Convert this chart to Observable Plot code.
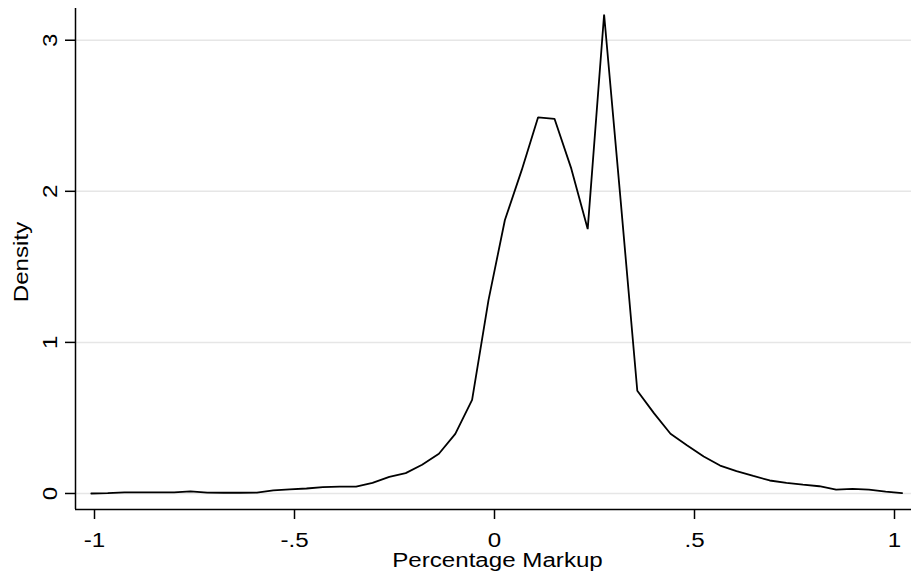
<!DOCTYPE html>
<html>
<head>
<meta charset="utf-8">
<script src="https://cdn.jsdelivr.net/npm/d3@7"></script>
<script src="https://cdn.jsdelivr.net/npm/@observablehq/plot@0.6"></script>
<style>
  html, body { margin: 0; padding: 0; background: #fff; }
</style>
</head>
<body>
<div id="chart"></div>
<script>
// Kernel density evaluation points (Percentage Markup)
const markup = [
  -1.008, -0.967, -0.925, -0.884, -0.843, -0.801, -0.760, -0.718, -0.677, -0.636,
  -0.594, -0.553, -0.512, -0.470, -0.429, -0.387, -0.346, -0.305, -0.263, -0.222,
  -0.181, -0.139, -0.098, -0.056, -0.015, 0.026, 0.068, 0.109, 0.150, 0.192,
  0.233, 0.274, 0.316, 0.357, 0.399, 0.440, 0.481, 0.523, 0.564, 0.605,
  0.647, 0.688, 0.730, 0.771, 0.812, 0.854, 0.895, 0.936, 0.978, 1.019
];
// Density values
const density = [
  0.000, 0.002, 0.007, 0.008, 0.008, 0.008, 0.014, 0.006, 0.005, 0.005,
  0.006, 0.020, 0.027, 0.033, 0.042, 0.046, 0.046, 0.070, 0.110, 0.135,
  0.190, 0.263, 0.395, 0.620, 1.280, 1.810, 2.140, 2.490, 2.480, 2.150,
  1.750, 3.170, 1.920, 0.680, 0.530, 0.395, 0.320, 0.245, 0.185, 0.148,
  0.116, 0.086, 0.070, 0.058, 0.048, 0.025, 0.031, 0.025, 0.013, 0.002
];
const xTicks = [-1, -0.5, 0, 0.5, 1];
const xTickLabels = ["-1", "-.5", "0", ".5", "1"];
const yTicks = [0, 1, 2, 3];
const yTickLabels = ["0", "1", "2", "3"];
const xTitle = "Percentage Markup";
const yTitle = "Density";

const data = markup.map((x, i) => ({x, y: density[i]}));
const xDomain = [-1.0475, 1.0425];
const yDomain = [-0.106, 3.21];

const chart = Plot.plot({
  width: 911,
  height: 576,
  marginLeft: 75,
  marginRight: 0,
  marginTop: 8,
  marginBottom: 67,
  style: {fontFamily: "'Liberation Sans', Arial, sans-serif", fontSize: "21px", background: "#fff", color: "#000"},
  x: {domain: xDomain},
  y: {domain: yDomain},
  marks: [
    Plot.gridY(yTicks, {stroke: "#e6e6e6", strokeOpacity: 1, strokeWidth: 1.5}),
    Plot.ruleX([xDomain[0]], {stroke: "#000", strokeWidth: 1.5}),
    Plot.ruleY([yDomain[0]], {stroke: "#000", strokeWidth: 1.5}),
    Plot.axisY({ticks: yTicks, tickSize: 10, tickFormat: () => "", label: null, strokeWidth: 1.5}),
    Plot.text(yTicks, {y: d => d, text: (d, i) => yTickLabels[i], frameAnchor: "left", dx: -19, rotate: -90, lineAnchor: "bottom", textAnchor: "middle", fill: "#000"}),
    Plot.axisX({ticks: xTicks, tickSize: 10, tickFormat: () => "", label: null, strokeWidth: 1.5}),
    Plot.text(xTicks, {x: d => d, text: (d, i) => xTickLabels[i], frameAnchor: "bottom", dy: 23, lineAnchor: "top", textAnchor: "middle", fill: "#000"}),
    Plot.text([xTitle], {x: 0, frameAnchor: "bottom", dy: 43, dx: 3, lineAnchor: "top", textAnchor: "middle", fill: "#000"}),
    Plot.text([yTitle], {frameAnchor: "left", dx: -48, dy: 3, rotate: -90, lineAnchor: "bottom", textAnchor: "middle", fill: "#000"}),
    Plot.line(data, {x: "x", y: "y", stroke: "#000", strokeWidth: 1.8, strokeLinejoin: "miter"})
  ]
});
// Stata's Helvetica renders a little wider than Arial: stretch glyphs along the text direction
d3.select(chart).selectAll("text").each(function() {
  const t = this.getAttribute("transform");
  if (t && t.includes("translate") && this.textContent.trim() !== "") {
    this.setAttribute("transform", t + " scale(1.15,1)");
  }
});
document.getElementById("chart").appendChild(chart);
</script>
</body>
</html>
